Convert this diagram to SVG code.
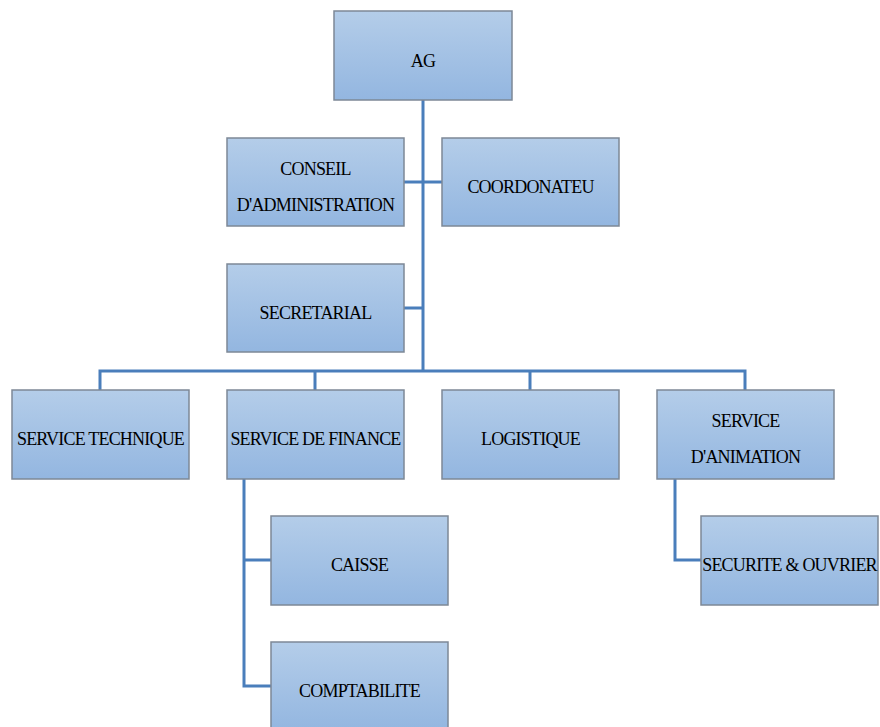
<svg xmlns="http://www.w3.org/2000/svg" width="880" height="727" viewBox="0 0 880 727">
<defs>
<linearGradient id="g" x1="0" y1="0" x2="0" y2="1">
<stop offset="0" stop-color="#b4cde9"/>
<stop offset="1" stop-color="#93b6e0"/>
</linearGradient>
<style>
.b{fill:url(#g);stroke:#7d8896;stroke-width:1.5}
.t{font-family:"Liberation Serif",serif;font-size:18px;fill:#000;text-anchor:middle;letter-spacing:-0.8px}
.c{fill:none;stroke:#4a7ebb;stroke-width:3}
</style>
</defs>
<rect width="880" height="727" fill="#fff"/>
<g id="connectors">
<path class="c" d="M423 100V371M404 182H442M404 308H423M100 390V371H745V390M315 371V390M530 371V390"/>
<path class="c" d="M244 479V686H271M244 560H271"/>
<path class="c" d="M675 479V560H701"/>
</g>
<g id="ag"><rect class="b" x="334" y="11" width="178" height="89"/><text class="t" x="423" y="67">AG</text></g>
<g id="conseil"><rect class="b" x="227" y="138" width="177" height="88"/><text class="t" x="315.5" y="175">CONSEIL</text><text class="t" x="315.5" y="211">D'ADMINISTRATION</text></g>
<g id="coordonateu"><rect class="b" x="442" y="138" width="177" height="88"/><text class="t" x="530.5" y="193">COORDONATEU</text></g>
<g id="secretarial"><rect class="b" x="227" y="264" width="177" height="88"/><text class="t" x="315.5" y="319">SECRETARIAL</text></g>
<g id="service-technique"><rect class="b" x="12" y="390" width="177" height="89"/><text class="t" x="100.5" y="445">SERVICE TECHNIQUE</text></g>
<g id="service-finance"><rect class="b" x="227" y="390" width="177" height="89"/><text class="t" x="315.5" y="445">SERVICE DE FINANCE</text></g>
<g id="logistique"><rect class="b" x="442" y="390" width="177" height="89"/><text class="t" x="530.5" y="445">LOGISTIQUE</text></g>
<g id="service-animation"><rect class="b" x="657" y="390" width="177" height="89"/><text class="t" x="745.5" y="427">SERVICE</text><text class="t" x="745.5" y="463">D'ANIMATION</text></g>
<g id="caisse"><rect class="b" x="271" y="516" width="177" height="89"/><text class="t" x="359.5" y="571">CAISSE</text></g>
<g id="comptabilite"><rect class="b" x="271" y="642" width="177" height="89"/><text class="t" x="359.5" y="697">COMPTABILITE</text></g>
<g id="securite"><rect class="b" x="701" y="516" width="177" height="89"/><text class="t" x="789.5" y="571">SECURITE &amp; OUVRIER</text></g>
</svg>
